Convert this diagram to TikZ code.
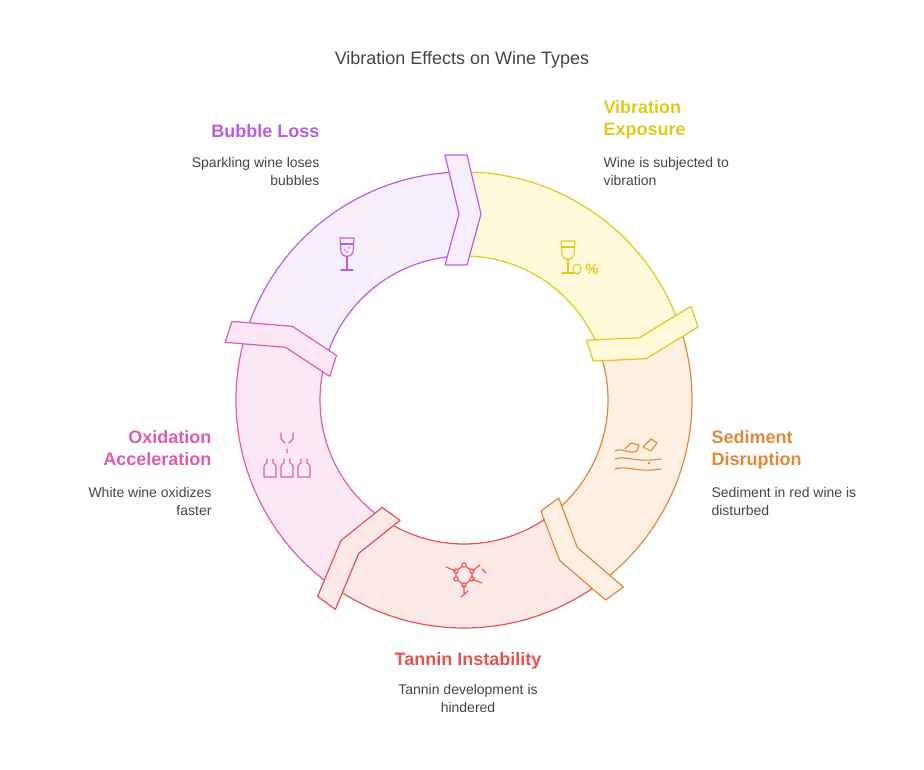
\documentclass[tikz,border=0pt]{standalone}
\usepackage{fontspec}
\setmainfont{Liberation Sans}
\usetikzlibrary{calc}
\definecolor{yS}{HTML}{E2C81C}\definecolor{yF}{HTML}{FEF9D9}
\definecolor{oS}{HTML}{E0883A}\definecolor{oF}{HTML}{FDF0E3}
\definecolor{rS}{HTML}{E4534F}\definecolor{rF}{HTML}{FDE9E8}
\definecolor{pS}{HTML}{E05AAE}\definecolor{pF}{HTML}{FCE8F3}
\definecolor{vS}{HTML}{B85DE8}\definecolor{vF}{HTML}{F7EEFC}
\definecolor{txt}{HTML}{444444}
\begin{document}
\begin{tikzpicture}[x=1pt,y=1pt,
  ttl/.style={font=\fontsize{18}{22}\selectfont\bfseries,align=left},
  dsc/.style={font=\fontsize{14}{18}\selectfont,text=txt},
  ico/.style={line width=1.1pt,line cap=round,line join=round}]
\useasboundingbox (0,0) rectangle (924,769);
\coordinate (c) at (464,369);
\def\R{228}\def\r{144}
\newcommand{\sector}[3]{%
  \fill[#3] ($(c)+(#1:\R)$) arc[start angle=#1,end angle=#1-72,radius=\R] -- ($(c)+(#1-72:\r)$) arc[start angle=#1-72,end angle=#1,radius=\r] -- cycle;
  \draw[#2,line width=1.2pt] ($(c)+(#1:\R)$) arc[start angle=#1,end angle=#1-72,radius=\R];
  \draw[#2,line width=1.2pt] ($(c)+(#1:\r)$) arc[start angle=#1,end angle=#1-72,radius=\r];}
\newcommand{\tab}[3]{%
  \filldraw[draw=#2,fill=#3,line width=1.2pt,line join=round]
   ($(c)+(#1:245)+(#1-90:-19)$) -- ($(c)+(#1:186)+(#1-90:-5)$) -- ($(c)+(#1:135)+(#1-90:-19)$)
   -- ($(c)+(#1:135)+(#1-90:3)$) -- ($(c)+(#1:186)+(#1-90:17)$) -- ($(c)+(#1:245)+(#1-90:3)$) -- cycle;}
\sector{90}{yS}{yF}
\sector{18}{oS}{oF}
\sector{-54}{rS}{rF}
\sector{-126}{pS}{pF}
\sector{162}{vS}{vF}
\tab{90}{vS}{vF}
\tab{18}{yS}{yF}
\tab{-54}{oS}{oF}
\tab{-126}{rS}{rF}
\tab{162}{pS}{pF}
% title
\node[font=\fontsize{18}{22}\selectfont,text=txt] (title) at (462,709) {Vibration Effects on Wine Types};
% labels
\node[ttl,text=yS,anchor=north west] (t1) at (600,672) {Vibration\\Exposure};
\node[dsc,anchor=north west,align=left] (d1) at (600,615) {Wine is subjected to\\vibration};
\node[ttl,text=vS,anchor=north east,align=right] (t5) at (323,648) {Bubble Loss};
\node[dsc,anchor=north east,align=right] (d5) at (323,615) {Sparkling wine loses\\bubbles};
\node[ttl,text=oS,anchor=north west] (t2) at (708,342) {Sediment\\Disruption};
\node[dsc,anchor=north west,align=left] (d2) at (708,285) {Sediment in red wine is\\disturbed};
\node[ttl,text=pS,anchor=north east,align=right] (t4) at (215,342) {Oxidation\\Acceleration};
\node[dsc,anchor=north east,align=right] (d4) at (215,285) {White wine oxidizes\\faster};
\node[ttl,text=rS,anchor=north] (t3) at (468,120) {Tannin Instability};
\node[dsc,anchor=north,align=center] (d3) at (468,88) {Tannin development is\\hindered};
% icons
% purple glass
\begin{scope}[shift={(347,517)},ico,draw=vS]
\draw (-7,14) -- (7,14) -- (6,0) .. controls (5,-6) and (-5,-6) .. (-6,0) -- cycle;
\draw (-6.5,8) -- (6.5,8); \draw (0,-4) -- (0,-18) (-6,-18) -- (6,-18);
\fill[vS] (-2,2) circle (1) (2,4) circle (1) (0,0) circle (1);
\end{scope}
% yellow glass
\begin{scope}[shift={(568,514)},ico,draw=yS]
\draw (-7,14) -- (7,14) -- (6,0) .. controls (5,-6) and (-5,-6) .. (-6,0) -- cycle;
\draw (-6.5,8) -- (6.5,8); \draw (0,-4) -- (0,-18) (-6,-18) -- (6,-18);
\draw (9,-14) ellipse (4 and 5);
\node[text=yS,font=\fontsize{15}{15}\selectfont\bfseries] at (24,-14) {\%};
\end{scope}
% orange waves
\begin{scope}[shift={(637,314)},ico,draw=oS]
\draw (-22,4) .. controls (-14,8) and (-8,0) .. (0,4);
\draw (-22,-4) .. controls (-12,0) and (-2,-8) .. (24,-4);
\draw (-22,-14) .. controls (-10,-10) and (0,-18) .. (24,-14);
\draw (-12,6) -- (-6,12) -- (2,10) -- (0,4);
\draw (6,8) -- (14,16) -- (20,12) -- (14,4) -- cycle;
\fill[oS] (12,-8) circle (1.3);
\end{scope}
% red molecule
\begin{scope}[shift={(464,190)},ico,draw=rS]
\draw (0,14) -- (8,8) -- (8,0) -- (0,-6) -- (-8,0) -- (-8,8) -- cycle;
\foreach \p in {(0,14),(8,8),(8,0),(0,-6),(-8,0),(-8,8)} \draw[fill=rF] \p circle (2.2);
\draw (8,8) -- (16,14) (8,0) -- (18,-4) (-8,8) -- (-18,12) (0,-6) -- (0,-14) (-3,-18) -- (4,-12) (18,10) -- (22,6);
\end{scope}
% pink bottles
\begin{scope}[shift={(287,314)},ico,draw=pS]
\draw (-6,22) -- (-6,16) -- (-2,12) (6,22) -- (6,16) -- (2,12) (0,6) -- (0,2);
\foreach \x in {-17,0,17} {
 \draw (\x-3,-4) -- (\x-3,-8) .. controls (\x-6,-10) .. (\x-6,-14) -- (\x-6,-22) -- (\x+6,-22) -- (\x+6,-14) .. controls (\x+6,-10) .. (\x+3,-8) -- (\x+3,-4);}
\end{scope}
\end{tikzpicture}
\end{document}
